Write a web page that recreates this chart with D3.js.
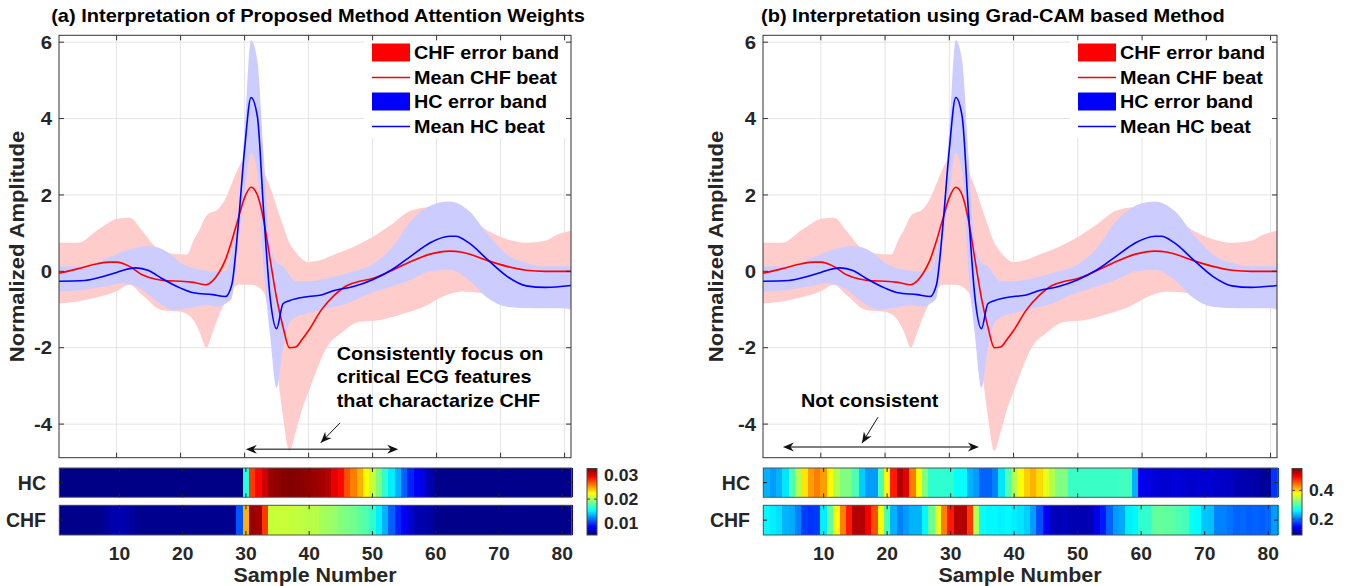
<!DOCTYPE html>
<html>
<head>
<meta charset="utf-8">
<script src="https://cdn.jsdelivr.net/npm/d3@7"></script>
<style>
  body { margin: 0; background: #fff; }
  svg { display: block; }
  text { font-family: "Liberation Sans", Arial, sans-serif; font-weight: bold; fill: #262626; }
</style>
</head>
<body>
<svg id="chart" width="1347" height="586"></svg>
<script>
// ---- data -------------------------------------------------------------
var samples = d3.range(1, 82);           // sample numbers 1..81
var xTicks = [10, 20, 30, 40, 50, 60, 70, 80];
var yTicks = [-4, -2, 0, 2, 4, 6];

// mean CHF beat (knots: sample, amplitude)
var chfMeanS = [1,4,7,9,10,12,14,16,18,20,22,24,25,26,27,28,29,30,31,32,33,34,35,36,37,38,39,40,42,44,46,48,50,53,56,59,62,64,66,68,71,74,77,81];
var chfMeanV = [-0.05,0.07,0.2,0.24,0.24,0.13,-0.09,-0.2,-0.25,-0.26,-0.29,-0.35,-0.25,-0.03,0.3,0.8,1.38,1.93,2.2,2.0,1.32,0.3,-0.7,-1.45,-2.0,-1.98,-1.78,-1.55,-1.01,-0.63,-0.37,-0.26,-0.19,0.02,0.26,0.45,0.53,0.5,0.4,0.28,0.13,0.03,0.0,0.0];
// mean HC beat
var hcMeanS = [1,5,8,10,12,13,15,17,20,22,25,27,28,29,30,31,32,33,34,35,36,37,40,42,44,47,50,53,56,59,62,63,65,68,71,74,77,81];
var hcMeanV = [-0.26,-0.24,-0.13,-0.03,0.07,0.09,0.02,-0.18,-0.44,-0.56,-0.61,-0.66,-0.35,1.2,3.2,4.55,4.05,1.5,-0.7,-1.5,-0.85,-0.77,-0.66,-0.62,-0.5,-0.4,-0.22,0.04,0.4,0.75,0.92,0.92,0.75,0.3,-0.13,-0.38,-0.42,-0.37];
// CHF error band
var chfUpS = [1,4,7,10,12,14,16,18,21,22,23,24,26,27,28,29,30,31,32,33,34,35,36,37,38,40,42,44,47,50,53,56,59,62,65,68,71,74,77,79,81];
var chfUpV = [0.75,0.75,1.08,1.37,1.41,1.06,0.65,0.48,0.44,0.8,1.1,1.45,1.65,1.9,2.3,2.7,3.0,3.15,2.9,2.6,2.2,1.7,1.2,0.75,0.5,0.24,0.3,0.44,0.64,0.9,1.23,1.59,1.68,1.62,1.41,1.06,0.84,0.75,0.8,0.97,1.06];
var chfLoS = [1,4,7,10,12,14,17,20,22,23,24,25,26,27,28,29,31,33,34,35,36,37,38,39,40,41,43,45,48,51,54,58,61,64,67,71,75,78,81];
var chfLoV = [-0.84,-0.79,-0.68,-0.52,-0.35,-0.62,-1.01,-1.06,-1.28,-1.6,-2.0,-1.6,-1.15,-0.8,-0.5,-0.35,-0.35,-0.55,-1.4,-2.5,-3.8,-4.7,-4.2,-3.6,-3.15,-2.7,-1.95,-1.63,-1.32,-1.28,-1.15,-0.93,-0.66,-0.53,-0.57,-0.75,-0.84,-0.88,-1.01];
// HC error band
var hcUpS = [1,5,9,12,15,18,20,23,25,27,28,29,30,31,32,33,34,35,36,37,38,40,43,47,50,53,56,59,62,65,68,71,74,77,81];
var hcUpV = [0.13,0.13,0.38,0.57,0.66,0.5,0.22,0.04,0.0,0.0,0.5,1.5,3.7,6.05,5.5,3.0,0.7,0.24,0.13,-0.1,-0.26,-0.26,-0.18,0.0,0.18,0.62,1.32,1.72,1.83,1.59,0.97,0.44,0.22,0.13,0.13];
var hcLoS = [1,5,9,11,14,16,19,21,24,26,27,28,29,30,31,32,33,34,35,36,37,38,40,43,46,49,53,56,59,62,65,68,71,75,81];
var hcLoV = [-0.53,-0.48,-0.37,-0.31,-0.48,-0.75,-1.01,-0.97,-0.88,-0.93,-0.85,-0.7,0.8,2.0,3.1,2.6,0.0,-1.7,-3.05,-2.0,-1.35,-1.2,-1.1,-0.97,-0.84,-0.62,-0.4,-0.22,0.0,0.04,-0.22,-0.7,-0.93,-0.97,-0.97];

// attention weights of the proposed method (one per sample)
var attnHC = [0.0052,0.0052,0.0052,0.0052,0.0052,0.0052,0.0052,0.0052,0.0052,0.0052,
  0.0052,0.0052,0.0052,0.0052,0.0052,0.0052,0.0052,0.0052,0.0052,0.0052,
  0.0052,0.0052,0.0052,0.0052,0.0052,0.0052,0.0052,0.0052,0.0052,0.0165,
  0.0278,0.0292,0.0306,0.0320,0.0324,0.0326,0.0327,0.0326,0.0325,0.0323,
  0.0321,0.0318,0.0314,0.0300,0.0292,0.0272,0.0259,0.0245,0.0225,0.0208,
  0.0189,0.0167,0.0150,0.0133,0.0111,0.0094,0.0083,0.0078,0.0064,0.0053,
  0.0053,0.0053,0.0053,0.0053,0.0053,0.0053,0.0053,0.0053,0.0053,0.0053,
  0.0053,0.0053,0.0053,0.0053,0.0053,0.0053,0.0053,0.0053,0.0053,0.0053,0.0053];
var attnCHF = [0.0053,0.0053,0.0053,0.0053,0.0053,0.0053,0.0053,0.0058,0.0062,0.0063,
  0.0061,0.0058,0.0054,0.0054,0.0054,0.0054,0.0054,0.0054,0.0054,0.0054,
  0.0054,0.0054,0.0054,0.0054,0.0054,0.0054,0.0054,0.0054,0.0108,0.0245,
  0.0322,0.0318,0.0278,0.0208,0.0209,0.0209,0.0208,0.0207,0.0206,0.0205,
  0.0204,0.0199,0.0197,0.0195,0.0190,0.0188,0.0185,0.0180,0.0176,0.0167,
  0.0150,0.0133,0.0111,0.0094,0.0083,0.0072,0.0064,0.0062,0.0060,0.0053,
  0.0053,0.0053,0.0053,0.0053,0.0053,0.0053,0.0053,0.0053,0.0053,0.0053,
  0.0053,0.0053,0.0053,0.0053,0.0053,0.0053,0.0053,0.0053,0.0053,0.0053,0.0053];
var attnLim = [0.0050, 0.0328];
var attnTicks = [0.01, 0.02, 0.03];

// Grad-CAM weights (one per sample)
var camHC = [0.229,0.219,0.229,0.252,0.298,0.344,0.390,0.423,0.437,0.423,
  0.381,0.344,0.321,0.321,0.298,0.242,0.219,0.219,0.298,0.381,
  0.483,0.529,0.506,0.437,0.381,0.321,0.284,0.284,0.284,0.284,
  0.266,0.266,0.229,0.219,0.192,0.192,0.206,0.252,0.298,0.344,
  0.376,0.400,0.413,0.395,0.367,0.344,0.321,0.321,0.289,0.289,
  0.289,0.289,0.289,0.289,0.289,0.289,0.293,0.293,0.229,0.145,
  0.136,0.131,0.129,0.127,0.129,0.131,0.127,0.125,0.127,0.129,
  0.127,0.124,0.122,0.120,0.113,0.112,0.110,0.108,0.102,0.102,0.171];
var camCHF = [0.261,0.256,0.250,0.229,0.225,0.206,0.175,0.170,0.173,0.256,
  0.307,0.376,0.437,0.483,0.529,0.529,0.497,0.460,0.381,0.298,
  0.229,0.206,0.219,0.229,0.229,0.261,0.312,0.367,0.437,0.483,
  0.529,0.529,0.469,0.344,0.266,0.261,0.261,0.258,0.261,0.256,
  0.252,0.242,0.219,0.182,0.145,0.118,0.115,0.118,0.113,0.112,
  0.113,0.115,0.136,0.159,0.192,0.219,0.225,0.256,0.260,0.284,
  0.286,0.307,0.310,0.307,0.305,0.298,0.295,0.266,0.262,0.238,
  0.235,0.206,0.206,0.200,0.192,0.195,0.190,0.192,0.190,0.195,0.219];
var camLim = [0.090, 0.552];
var camTicks = [0.2, 0.4];

var legendNames = ["CHF error band", "Mean CHF beat", "HC error band", "Mean HC beat"];
var noteA = ["Consistently focus on", "critical ECG features", "that charactarize CHF"];
var noteB = ["Not consistent"];

// ---- layout ------------------------------------------------------------
var svg = d3.select("#chart");
var plotTop = 35.3, plotBot = 457.7;
var rows = [{name: "HC", top: 468, bot: 497.3}, {name: "CHF", top: 505.3, bot: 535}];
var cbTop = 468.5, cbBot = 535;
var SX = 1.1;   // the figure font runs wide

var jetStops = [0, 0.125, 0.375, 0.625, 0.875, 1];
var jetColors = ["#000080", "#0000ff", "#00ffff", "#ffff00", "#ff0000", "#800000"];
function jet(lim) {
  return d3.scaleLinear()
    .domain(jetStops.map(function(t) { return lim[0] + t * (lim[1] - lim[0]); }))
    .range(jetColors).clamp(true);
}

var y = d3.scaleLinear().domain([-4.88, 6.18]).range([plotBot, plotTop]);

function label(g, str, x, yy, size, anchor, rot, sx) {
  return g.append("text")
    .attr("transform", "translate(" + x + "," + yy + ")" + (rot ? " rotate(" + rot + ")" : "") +
          " scale(" + (sx || SX) + ",1)")
    .attr("text-anchor", anchor || "start")
    .style("font-size", size + "px")
    .text(str);
}

function head(g, x1, y1, x2, y2) {
  // notched arrow head pointing from (x1,y1) to (x2,y2)
  var a = Math.atan2(y2 - y1, x2 - x1) * 180 / Math.PI;
  g.append("path")
    .attr("d", "M0,0 L-11,-4.5 L-7.5,0 L-11,4.5 Z")
    .attr("transform", "translate(" + x2 + "," + y2 + ") rotate(" + a + ")")
    .attr("fill", "#111");
}

var defs = svg.append("defs");

function panel(p, idx) {
  var g = svg.append("g");
  var x = d3.scaleLinear().domain([1, 81]).range([p.left, p.right]);

  // grid
  g.selectAll(null).data(xTicks).enter().append("line")
    .attr("x1", x).attr("x2", x).attr("y1", plotTop).attr("y2", plotBot)
    .attr("stroke", "#e4e4e4");
  g.selectAll(null).data(yTicks).enter().append("line")
    .attr("x1", p.left).attr("x2", p.right).attr("y1", y).attr("y2", y)
    .attr("stroke", "#e4e4e4");

  // error bands
  var ln = d3.line().curve(d3.curveMonotoneX);
  function band(upS, upV, loS, loV) {
    var up = upS.map(function(s, i) { return [x(s), y(upV[i])]; });
    var lo = loS.map(function(s, i) { return [x(s), y(loV[i])]; }).reverse();
    return ln(up) + "L" + ln(lo).slice(1) + "Z";
  }
  g.append("path").attr("d", band(chfUpS, chfUpV, chfLoS, chfLoV)).attr("fill", "#ffcccc");
  g.append("path").attr("d", band(hcUpS, hcUpV, hcLoS, hcLoV)).attr("fill", "#ccccff");

  // mean beats
  function mean(S, V) { return ln(S.map(function(s, i) { return [x(s), y(V[i])]; })); }
  g.append("path").attr("d", mean(chfMeanS, chfMeanV))
    .attr("fill", "none").attr("stroke", "#ff0000").attr("stroke-width", 1.6);
  g.append("path").attr("d", mean(hcMeanS, hcMeanV))
    .attr("fill", "none").attr("stroke", "#0000ff").attr("stroke-width", 1.6);

  // legend
  var lx = p.right - 207;
  g.append("rect").attr("x", lx).attr("y", plotTop + 1).attr("width", 206).attr("height", 137 - plotTop)
    .attr("fill", "#fff");
  var ly = [52.5, 77.5, 101.5, 126.5];
  legendNames.forEach(function(name, i) {
    var col = i < 2 ? "#ff0000" : "#0000ff";
    if (i % 2 === 0) {
      g.append("rect").attr("x", p.right - 199).attr("y", ly[i] - 9).attr("width", 38).attr("height", 18)
        .attr("fill", col);
    } else {
      g.append("line").attr("x1", p.right - 199).attr("x2", p.right - 161).attr("y1", ly[i]).attr("y2", ly[i])
        .attr("stroke", col).attr("stroke-width", 1.6);
    }
    label(g, name, p.right - 157, ly[i] + 6.5, 18, "start").style("fill", "#000");
  });

  // axes box + inward ticks
  g.append("rect").attr("x", p.left).attr("y", plotTop).attr("width", p.right - p.left)
    .attr("height", plotBot - plotTop).attr("fill", "none").attr("stroke", "#333");
  xTicks.forEach(function(t) {
    g.append("line").attr("x1", x(t)).attr("x2", x(t)).attr("y1", plotTop).attr("y2", plotTop + 5).attr("stroke", "#333");
    g.append("line").attr("x1", x(t)).attr("x2", x(t)).attr("y1", plotBot).attr("y2", plotBot - 5).attr("stroke", "#333");
  });
  yTicks.forEach(function(t) {
    g.append("line").attr("x1", p.left).attr("x2", p.left + 5).attr("y1", y(t)).attr("y2", y(t)).attr("stroke", "#333");
    g.append("line").attr("x1", p.right).attr("x2", p.right - 5).attr("y1", y(t)).attr("y2", y(t)).attr("stroke", "#333");
    label(g, t, p.left - 7, y(t) + 6.6, 18.5, "end");
  });

  label(g, "Normalized Amplitude", p.left - p.ylab, (plotTop + plotBot) / 2, 20, "middle", -90);
  label(g, p.title, p.titleX, 22, 18.2, p.titleAnchor).style("fill", "#000");

  // annotations
  var ag = g.append("g");
  var ax1 = x(p.span[0]), ax2 = x(p.span[1]), ay = y(p.span[2]);
  ag.append("line").attr("x1", ax1 + 4).attr("x2", ax2 - 4).attr("y1", ay).attr("y2", ay)
    .attr("stroke", "#555").attr("stroke-width", 1.5);
  head(ag, ax2, ay, ax1, ay);
  head(ag, ax1, ay, ax2, ay);
  var px1 = x(p.pointer[0]), py1 = y(p.pointer[1]), px2 = x(p.pointer[2]), py2 = y(p.pointer[3]);
  ag.append("line").attr("x1", px1).attr("y1", py1).attr("x2", px2).attr("y2", py2)
    .attr("stroke", "#111").attr("stroke-width", 1);
  head(ag, px1, py1, px2, py2);
  p.note.forEach(function(line, i) {
    label(ag, line, x(p.noteAt[0]), y(p.noteAt[1]) + 6.5 + i * 23.5, 18, "start").style("fill", "#000");
  });

  // heatmaps
  var hx = d3.scaleBand().domain(samples).range([p.left + 0.3, p.right + 0.7]);
  var color = jet(p.lim);
  [p.hc, p.chf].forEach(function(vals, r) {
    var row = rows[r];
    var hg = g.append("g");
    hg.selectAll("rect").data(vals).enter().append("rect")
      .attr("x", function(d, i) { return hx(samples[i]); })
      .attr("width", hx.bandwidth() + 1)
      .attr("y", row.top).attr("height", row.bot - row.top)
      .attr("shape-rendering", "crispEdges")
      .attr("fill", function(d) { return color(d); });
    hg.append("rect").attr("x", p.left + 0.3).attr("y", row.top).attr("width", p.right - p.left + 0.4)
      .attr("height", row.bot - row.top).attr("fill", "none").attr("stroke", "#555");
    xTicks.forEach(function(t) {
      var cx = hx(t) + hx.bandwidth() / 2;
      hg.append("line").attr("x1", cx).attr("x2", cx).attr("y1", row.top).attr("y2", row.top + 4).attr("stroke", "#222");
      hg.append("line").attr("x1", cx).attr("x2", cx).attr("y1", row.bot).attr("y2", row.bot - 4).attr("stroke", "#222");
    });
    var cy = (row.top + row.bot) / 2;
    hg.append("line").attr("x1", p.left).attr("x2", p.left + 4).attr("y1", cy).attr("y2", cy).attr("stroke", "#222");
    hg.append("line").attr("x1", p.right + 1).attr("x2", p.right - 3).attr("y1", cy).attr("y2", cy).attr("stroke", "#222");
    label(g, row.name, p.left - 13, cy + 7, 19.5, "end", 0, 1);
  });
  xTicks.forEach(function(t) {
    label(g, t, hx(t) + hx.bandwidth() / 2, 560, 17.5, "middle");
  });
  label(g, "Sample Number", (p.left + p.right) / 2, 581.5, 19.5, "middle");

  // colorbar
  var gid = "jet" + idx;
  var grad = defs.append("linearGradient").attr("id", gid)
    .attr("x1", 0).attr("y1", 1).attr("x2", 0).attr("y2", 0);
  jetStops.forEach(function(t, i) {
    grad.append("stop").attr("offset", t).attr("stop-color", jetColors[i]);
  });
  var cb = d3.scaleLinear().domain(p.lim).range([cbBot, cbTop]);
  g.append("rect").attr("x", p.cbX).attr("y", cbTop).attr("width", 10).attr("height", cbBot - cbTop)
    .attr("fill", "url(#" + gid + ")").attr("stroke", "#444");
  p.cbTicks.forEach(function(t) {
    g.append("line").attr("x1", p.cbX).attr("x2", p.cbX + 3).attr("y1", cb(t)).attr("y2", cb(t)).attr("stroke", "#444");
    g.append("line").attr("x1", p.cbX + 10).attr("x2", p.cbX + 7).attr("y1", cb(t)).attr("y2", cb(t)).attr("stroke", "#444");
    label(g, p.cbFmt(t), p.cbX + 17, cb(t) + 6, 16, "start");
  });
}

panel({
  left: 59, right: 571, cbX: 587, ylab: 35,
  title: "(a) Interpretation of Proposed Method Attention Weights", titleX: 318, titleAnchor: "middle",
  hc: attnHC, chf: attnCHF, lim: attnLim, cbTicks: attnTicks, cbFmt: d3.format(".2f"),
  span: [30.2, 54, -4.66], pointer: [44.9, -3.97, 41.9, -4.49],
  note: noteA, noteAt: [44.4, -2.14]
}, 0);

panel({
  left: 763, right: 1277, cbX: 1292, ylab: 40,
  title: "(b)  Interpretation using Grad-CAM based Method", titleX: 761, titleAnchor: "start",
  hc: camHC, chf: camCHF, lim: camLim, cbTicks: camTicks, cbFmt: d3.format(".1f"),
  span: [4.1, 34.6, -4.6], pointer: [18.9, -3.82, 16.4, -4.5],
  note: noteB, noteAt: [6.9, -3.39]
}, 1);
</script>
</body>
</html>
